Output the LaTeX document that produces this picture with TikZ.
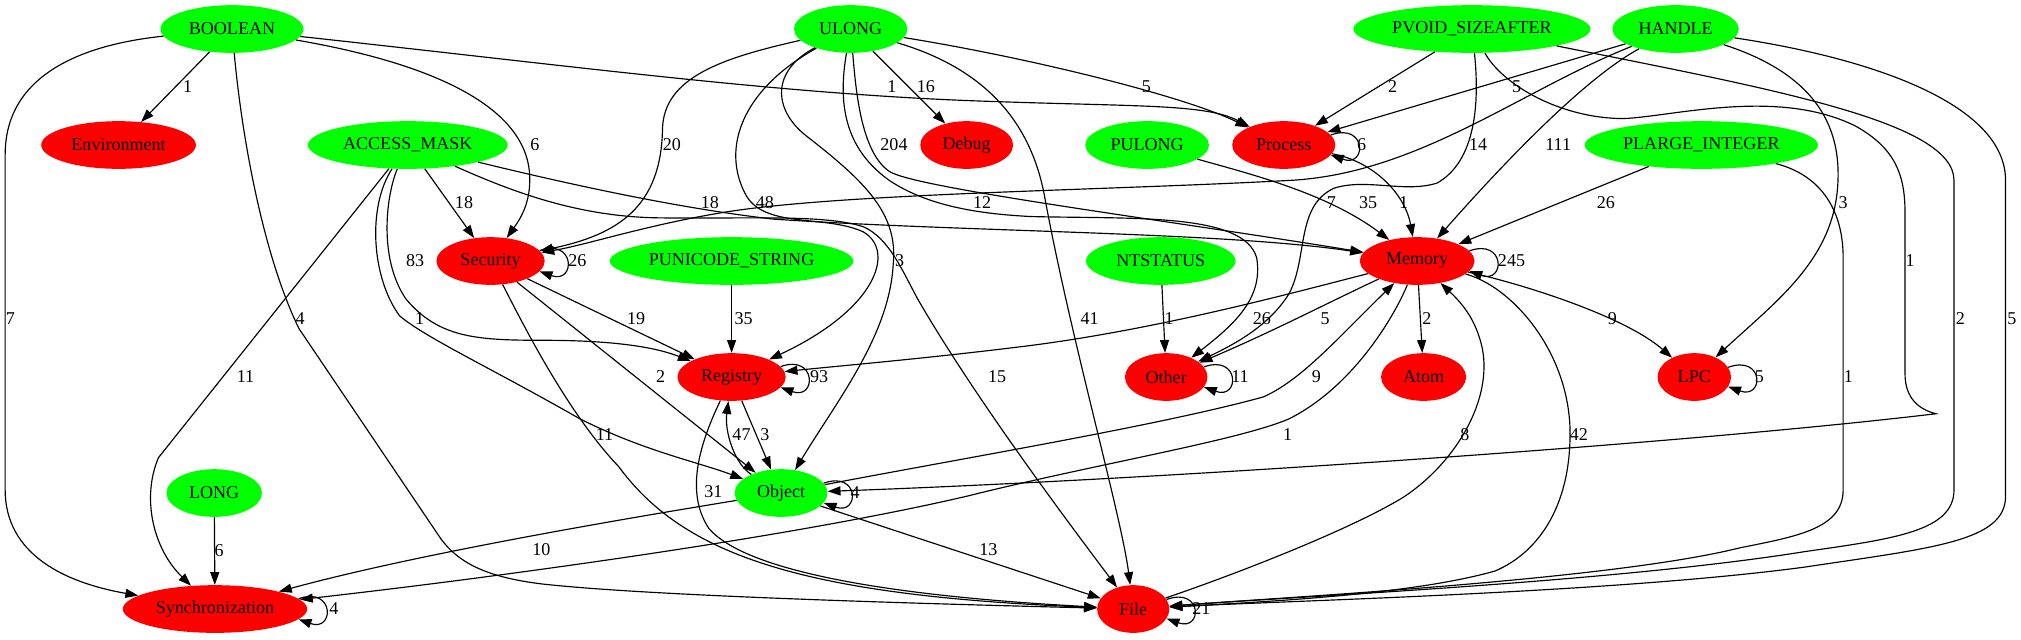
\documentclass[tikz,border=0pt]{standalone}
\usepackage{fontspec}
\setmainfont{Liberation Serif}
\usetikzlibrary{shapes.geometric,arrows.meta}
\definecolor{gvgreen}{RGB}{0,255,0}
\definecolor{gvred}{RGB}{255,0,0}
\begin{document}
\begin{tikzpicture}[x=1pt,y=-1pt,
  every node/.style={font=\fontsize{14pt}{16pt}\selectfont},
  gn/.style={ellipse, fill=gvgreen, inner sep=0pt, minimum height=37pt},
  rn/.style={ellipse, fill=gvred, inner sep=0pt, minimum height=37pt},
  gvedge/.style={draw=black, line width=0.9pt, -{Triangle[length=10pt,width=7pt]}},
  lab/.style={inner sep=0pt}]
\fill[white] (0,0) rectangle (1568,496);
\useasboundingbox (0,0) rectangle (1568,496);
% nodes
\node[gn,minimum width=111pt] (bool) at (180,22.5) {BOOLEAN};
\node[gn,minimum width=88pt] (ulong) at (660,22.5) {ULONG};
\node[gn,minimum width=184pt] (pvoid) at (1142,22.5) {PVOID\_SIZEAFTER};
\node[gn,minimum width=98pt] (handle) at (1300,22.5) {HANDLE};
\node[rn,minimum width=120pt] (env) at (92,112.5) {Environment};
\node[gn,minimum width=155pt] (amask) at (316.4,112.5) {ACCESS\_MASK};
\node[rn,minimum width=72pt] (debug) at (750,112.5) {Debug};
\node[gn,minimum width=96pt] (pulong) at (890,112.5) {PULONG};
\node[rn,minimum width=80pt] (proc) at (996,112.5) {Process};
\node[gn,minimum width=181pt] (plarge) at (1320,112.5) {PLARGE\_INTEGER};
\node[rn,minimum width=84pt] (sec) at (380.6,202.5) {Security};
\node[gn,minimum width=189pt] (puni) at (567.6,202.5) {PUNICODE\_STRING};
\node[gn,minimum width=116pt] (ntst) at (900.6,202.5) {NTSTATUS};
\node[rn,minimum width=89pt] (mem) at (1099.5,202.5) {Memory};
\node[rn,minimum width=84pt] (reg) at (567.6,292.5) {Registry};
\node[rn,minimum width=64pt] (oth) at (904.8,292.5) {Other};
\node[rn,minimum width=66pt] (atom) at (1104.5,292.5) {Atom};
\node[rn,minimum width=57pt] (lpc) at (1314.5,292.5) {LPC};
\node[gn,minimum width=74pt] (long) at (166.2,382.5) {LONG};
\node[gn,minimum width=72pt] (obj) at (606,382.5) {Object};
\node[rn,minimum width=143pt] (sync) at (166.8,472.5) {Synchronization};
\node[rn,minimum width=56pt] (file) at (879.2,472.5) {File};

% BOOLEAN
\draw[gvedge] (bool) -- (env);
\draw[gvedge] (bool) .. controls (340,50) and (412,85) .. (411,140) .. controls (411,160) and (402,172) .. (sec);
\draw[gvedge] (bool) .. controls (450,52) and (600,72) .. (750,78) .. controls (880,83) and (935,80) .. (proc);
\draw[gvedge] (bool) .. controls (188,110) and (205,200) .. (232,255) -- (340,415) .. controls (355,438) and (380,448) .. (420,453) .. controls (500,462) and (700,468) .. (file);
\draw[gvedge] (bool) .. controls (60,35) and (4,60) .. (4,120) -- (4,380) .. controls (4,430) and (50,452) .. (sync);
% ULONG
\draw[gvedge] (ulong) -- (debug);
\draw[gvedge] (ulong) .. controls (800,45) and (920,75) .. (proc);
\draw[gvedge] (ulong) .. controls (560,45) and (515,60) .. (514,100) .. controls (513,160) and (480,182) .. (sec);
\draw[gvedge] (ulong) .. controls (575,70) and (560,115) .. (578,150) .. controls (592,178) and (640,166) .. (670,180) .. controls (695,195) and (680,240) .. (reg);
\draw[gvedge] (ulong) .. controls (598,55) and (600,85) .. (625,105) .. controls (670,140) and (697,165) .. (693,205) .. controls (690,260) and (650,310) .. (obj);
\draw[gvedge] (ulong) .. controls (664,70) and (668,118) .. (690,133) .. controls (710,146) and (900,170) .. (mem);
\draw[gvedge] (ulong) .. controls (650,80) and (655,115) .. (690,140) .. controls (720,160) and (760,166) .. (800,168) .. controls (880,170) and (965,165) .. (975,200) .. controls (980,230) and (960,250) .. (oth);
\draw[gvedge] (ulong) .. controls (770,55) and (800,100) .. (810,150) .. controls (830,260) and (870,400) .. (file);
% PVOID_SIZEAFTER
\draw[gvedge] (pvoid) -- (proc);
\draw[gvedge] (pvoid) .. controls (1380,70) and (1516,95) .. (1516,140) -- (1516,380) .. controls (1516,412) and (1470,418) .. (1400,428) .. controls (1250,452) and (1000,463) .. (file);
\draw[gvedge] (pvoid) .. controls (1165,65) and (1210,92) .. (1260,92) .. controls (1300,90) and (1380,68) .. (1440,98) .. controls (1470,115) and (1478,135) .. (1478,165) -- (1478,290) .. controls (1478,310) and (1490,318) .. (1502,321) .. controls (1300,345) and (900,372) .. (obj);
\draw[gvedge] (pvoid) .. controls (1148,80) and (1145,125) .. (1115,142) .. controls (1090,150) and (1060,138) .. (1035,146) .. controls (1005,160) and (1015,200) .. (1000,228) .. controls (985,252) and (960,266) .. (oth);
% HANDLE
\draw[gvedge] (handle) -- (proc);
\draw[gvedge] (handle) .. controls (1180,70) and (1100,135) .. (1000,140) .. controls (850,148) and (650,150) .. (560,165) .. controls (500,175) and (455,190) .. (sec);
\draw[gvedge] (handle) .. controls (1240,55) and (1190,100) .. (mem);
\draw[gvedge] (handle) .. controls (1400,55) and (1428,90) .. (1426,140) .. controls (1424,200) and (1380,232) .. (lpc);
\draw[gvedge] (handle) .. controls (1450,45) and (1556,80) .. (1556,140) -- (1556,385) .. controls (1556,420) and (1500,425) .. (1400,440) .. controls (1250,460) and (1000,466) .. (file);
% Process, PULONG, PLARGE_INTEGER
\draw[gvedge] (proc.12) .. controls +(28,-10) and +(28,10) .. (proc.-12);
\draw[gvedge] (proc) .. controls (1065,125) and (1090,150) .. (mem);
\draw[gvedge] (pulong) .. controls (970,135) and (1030,150) .. (mem);
\draw[gvedge] (plarge) -- (mem);
\draw[gvedge] (plarge) .. controls (1410,135) and (1430,160) .. (1430,200) -- (1430,380) .. controls (1430,410) and (1395,416) .. (1350,425) .. controls (1250,450) and (1000,463) .. (file);
% ACCESS_MASK
\draw[gvedge] (amask) -- (sec);
\draw[gvedge] (amask) .. controls (450,145) and (530,162) .. (600,170) .. controls (750,180) and (950,180) .. (mem);
\draw[gvedge] (amask) .. controls (300,150) and (293,200) .. (315,232) .. controls (340,262) and (370,264) .. (420,264) .. controls (480,264) and (510,270) .. (reg);
\draw[gvedge] (amask) .. controls (285,160) and (288,215) .. (310,245) .. controls (330,262) and (380,285) .. (450,325) .. controls (500,350) and (540,358) .. (obj);
\draw[gvedge] (amask) -- (123,355) .. controls (110,385) and (118,425) .. (sync);
\draw[gvedge] (amask) .. controls (400,150) and (450,168) .. (510,169) .. controls (580,170) and (640,166) .. (670,176) .. controls (690,185) and (700,210) .. (712,232) .. controls (760,315) and (840,420) .. (file);
% Security
\draw[gvedge] (sec.12) .. controls +(28,-10) and +(28,10) .. (sec.-12);
\draw[gvedge] (sec) -- (reg);
\draw[gvedge] (sec) -- (obj);
\draw[gvedge] (sec) .. controls (405,250) and (440,320) .. (480,362) .. controls (530,430) and (620,462) .. (file);
% PUNICODE_STRING, NTSTATUS
\draw[gvedge] (puni) -- (reg);
\draw[gvedge] (ntst) -- (oth);
% Memory
\draw[gvedge] (mem.11) .. controls +(28,-10) and +(28,10) .. (mem.-11);
\draw[gvedge] (mem) .. controls (1000,228) and (900,255) .. (800,268) .. controls (720,278) and (660,283) .. (reg);
\draw[gvedge] (mem) .. controls (1030,235) and (990,256) .. (oth);
\draw[gvedge] (mem) -- (atom);
\draw[gvedge] (mem) .. controls (1180,220) and (1260,245) .. (lpc);
\draw[gvedge] (mem) .. controls (1172,222) and (1215,270) .. (1218,330) .. controls (1220,390) and (1195,428) .. (1160,443) .. controls (1100,460) and (1000,466) .. (file);
\draw[gvedge] (mem) .. controls (1082,245) and (1050,300) .. (1000,325) .. controls (960,342) and (850,360) .. (750,385) .. controls (600,420) and (350,452) .. (sync);
% Other, Registry, Object
\draw[gvedge] (oth.15) .. controls +(28,-10) and +(28,10) .. (oth.-15);
\draw[gvedge] (reg.12) .. controls +(28,-10) and +(28,10) .. (reg.-12);
\draw[gvedge] (reg) -- (obj);
\draw[gvedge] (obj) .. controls (570,360) and (562,335) .. (reg);
\draw[gvedge] (reg) .. controls (545,340) and (530,380) .. (550,410) .. controls (580,445) and (700,463) .. (file);
\draw[gvedge] (obj.13) .. controls +(28,-10) and +(28,10) .. (obj.-13);
\draw[gvedge] (obj) .. controls (750,355) and (900,330) .. (980,308) .. controls (1010,295) and (1040,260) .. (mem);
\draw[gvedge] (obj) .. controls (500,400) and (330,428) .. (sync);
\draw[gvedge] (obj) -- (file);
% LONG, Synchronization, File, LPC
\draw[gvedge] (long) -- (sync);
\draw[gvedge] (sync.7) .. controls +(28,-10) and +(28,10) .. (sync.-7);
\draw[gvedge] (file.16) .. controls +(28,-10) and +(28,10) .. (file.-16);
\draw[gvedge] (file) .. controls (960,445) and (1050,410) .. (1090,385) .. controls (1130,358) and (1158,310) .. (1150,270) .. controls (1145,248) and (1135,236) .. (mem);
\draw[gvedge] (lpc.16) .. controls +(28,-10) and +(28,10) .. (lpc.-16);

% labels
\node[lab] (l01) at (145.5,67) {1};
\node[lab] (l02) at (415,112) {6};
\node[lab] (l03) at (692,67) {1};
\node[lab] (l04) at (232.8,247) {4};
\node[lab] (l05) at (8,247) {7};
\node[lab] (l06) at (718.3,67) {16};
\node[lab] (l07) at (889.4,67) {5};
\node[lab] (l08) at (521.3,112) {20};
\node[lab] (l09) at (593.5,157) {48};
\node[lab] (l10) at (698,202) {3};
\node[lab] (l11) at (693.6,112) {204};
\node[lab] (l12) at (762,157) {12};
\node[lab] (l13) at (845.4,247) {41};
\node[lab] (l14) at (1080.4,67) {2};
\node[lab] (l15) at (1521,247) {2};
\node[lab] (l16) at (1482,202) {1};
\node[lab] (l17) at (1033,157) {7};
\node[lab] (l18) at (1176.6,67) {5};
\node[lab] (l19) at (1146.8,112.5) {14};
\node[lab] (l20) at (1208.9,112.5) {111};
\node[lab] (l21) at (1430,157) {3};
\node[lab] (l22) at (1561,247) {5};
\node[lab] (l23) at (1056.5,112.5) {6};
\node[lab] (l24) at (1089,157) {1};
\node[lab] (l25) at (1061.5,157) {35};
\node[lab] (l26) at (1246,157) {26};
\node[lab] (l27) at (1434,292) {1};
\node[lab] (l28) at (360,157) {18};
\node[lab] (l29) at (550.8,157) {18};
\node[lab] (l30) at (322,202) {83};
\node[lab] (l31) at (325.5,247) {1};
\node[lab] (l32) at (190.5,292) {11};
\node[lab] (l33) at (773.7,292) {15};
\node[lab] (l34) at (448,202) {26};
\node[lab] (l35) at (493.6,247) {19};
\node[lab] (l36) at (512.6,292) {2};
\node[lab] (l37) at (469,337.5) {11};
\node[lab] (l38) at (577,247) {35};
\node[lab] (l39) at (907,247) {1};
\node[lab] (l40) at (1172.7,202) {245};
\node[lab] (l41) at (979,247) {26};
\node[lab] (l42) at (1028,247) {5};
\node[lab] (l43) at (1107,247) {2};
\node[lab] (l44) at (1251,247) {9};
\node[lab] (l45) at (1225,337.5) {42};
\node[lab] (l46) at (999,337.5) {1};
\node[lab] (l47) at (962,292) {11};
\node[lab] (l48) at (635.5,292) {93};
\node[lab] (l49) at (593.5,337) {3};
\node[lab] (l50) at (575.3,337) {47};
\node[lab] (l51) at (553.5,381.5) {31};
\node[lab] (l52) at (663.5,382.5) {4};
\node[lab] (l53) at (1021.3,292) {9};
\node[lab] (l54) at (420,426.7) {10};
\node[lab] (l55) at (766.8,426.7) {13};
\node[lab] (l56) at (170,427) {6};
\node[lab] (l57) at (259,472.5) {4};
\node[lab] (l58) at (932,472.5) {21};
\node[lab] (l59) at (1136.6,337.5) {8};
\node[lab] (l60) at (1365,292.5) {5};
\end{tikzpicture}
\end{document}
